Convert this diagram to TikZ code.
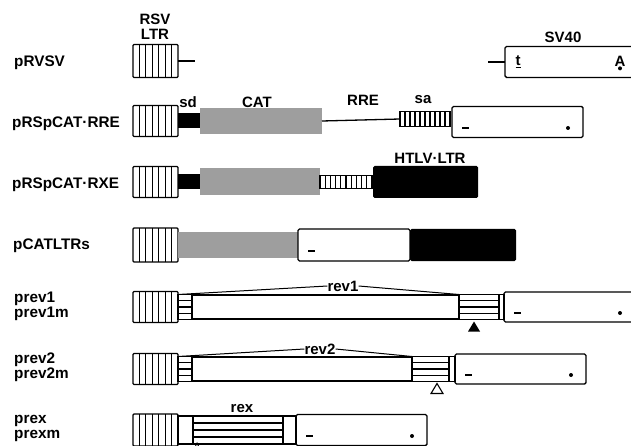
\documentclass[tikz,border=0pt]{standalone}
\usepackage{fontspec}
\setmainfont{Liberation Sans}
\usetikzlibrary{positioning,calc}

\tikzset{
  seg/.style={inner sep=0pt, outer sep=0pt, anchor=west},
  vstripes/.style={path picture={
      \foreach \k in {1,...,#1}{
        \pgfmathsetmacro\fr{\k/(#1+1)}
        \draw[line width=1.2pt]
          ($(path picture bounding box.south west)!\fr!(path picture bounding box.south east)$) --
          ($(path picture bounding box.north west)!\fr!(path picture bounding box.north east)$);
      }}},
  hstripes/.style={path picture={
      \foreach \k in {1,...,#1}{
        \pgfmathsetmacro\fr{\k/(#1+1)}
        \draw[line width=1.1pt]
          ($(path picture bounding box.south west)!\fr!(path picture bounding box.north west)$) --
          ($(path picture bounding box.south east)!\fr!(path picture bounding box.north east)$);
      }}},
  ltrbox/.style={seg, draw, line width=1.4pt, rounded corners=1pt,
    minimum width=45pt, minimum height=#1, vstripes=6},
  sabox/.style={seg, draw, line width=1.3pt, minimum width=#1, minimum height=15pt, vstripes=9},
  hbox/.style={seg, draw, line width=1.3pt, minimum height=25pt, minimum width=#1, hstripes=3},
  plainbox/.style={seg, draw, line width=1.3pt, minimum height=25pt, minimum width=#1},
  sdbar/.style={seg, fill=black, minimum width=22pt, minimum height=15pt},
  catbox/.style={seg, fill=black!38, minimum width=#1, minimum height=26pt},
  blackbox/.style={seg, fill=black, rounded corners=1.5pt, minimum width=#1, minimum height=32pt},
  svbox/.style={seg, draw, line width=1.4pt, rounded corners=1.5pt,
    minimum width=131pt, minimum height=31pt},
  marks/.style={path picture={
      \draw[line width=1.5pt] ($(path picture bounding box.west)+(10,6)$) -- ++(7,0);
      \fill ($(path picture bounding box.east)+(-15,6)$) circle (2);}},
  tag/.style={inner sep=0pt, font=\fontsize{15.3}{15}\selectfont\bfseries, align=left},
  head/.style={inner sep=0pt, font=\fontsize{15}{14.5}\selectfont\bfseries, align=center},
  bracket/.style={line width=1pt},
  link/.style={line width=1.3pt},
}

\begin{document}
\begin{tikzpicture}[x=1pt, y=-1pt]
\useasboundingbox (0,0) rectangle (631,446);
\clip (0,0) rectangle (631,446);

% row labels
\node[tag, anchor=west] (lab1) at (14,63)  {pRVSV};
\node[tag, anchor=west] (lab2) at (12,124) {pRSpCAT·RRE};
\node[tag, anchor=west] (lab3) at (12,185) {pRSpCAT·RXE};
\node[tag, anchor=west] (lab4) at (13,246) {pCATLTRs};
\node[tag, anchor=west] (lab5) at (14,306) {prev1\\prev1m};
\node[tag, anchor=west] (lab6) at (14,367) {prev2\\prev2m};
\node[tag, anchor=west] (lab7) at (14,428) {prex\\prexm};

% --- pRVSV ---
\node[ltrbox=33pt] (ltr1) at (133,61) {};
\node[head] (rsv) at (155,27) {RSV\\LTR};
\coordinate (c1) at (195,61);
\draw[link] (ltr1.east) -- (c1);
\node[svbox] (sv) at (505,62) {};
\coordinate (c2) at (488,62);
\draw[link] (c2) -- (sv.west);
\node[head] (svlab) at (563,37) {SV40};
\node[head] (tt) at ($(sv.west)+(13,0)$) {\underline{t}};
\node[head] (aa) at ($(sv.east)+(-16,-1)$) {A};
\fill ($(aa.south)+(0,2)$) circle (2);

% --- pRSpCAT.RRE ---
\node[ltrbox=31pt] (ltr2) at (133,121) {};
\node[sdbar, right=0pt of ltr2] (sd2) {};
\node[catbox=122pt, right=0pt of sd2] (cat2) {};
\node[sabox=50pt] (sa2) at (400,119) {};
\draw[link] (cat2.east) -- (sa2.west);
\node[svbox, marks] (wb2) at (452,122) {};
\node[head] (sdlab) at (188,102) {sd};
\node[head] (catlab) at (257,102) {CAT};
\node[head] (rrelab) at (363,100) {RRE};
\node[head] (salab) at (423,100) {sa};

% --- pRSpCAT.RXE ---
\node[ltrbox=31pt] (ltr3) at (133,182) {};
\node[sdbar, right=0pt of ltr3] (sd3) {};
\node[catbox=120pt, minimum height=27pt, right=0pt of sd3] (cat3) {};
\node[sabox=52pt, minimum height=13pt, right=0pt of cat3] (sa3) {};
\node[blackbox=105pt, right=1pt of sa3] (htlv) {};
\node[head] (htlvlab) at (430,158) {HTLV·LTR};

% --- pCATLTRs ---
\node[ltrbox=34pt] (ltr4) at (133,245) {};
\node[catbox=120pt, minimum height=25pt, right=0pt of ltr4] (cat4) {};
\node[seg, draw, line width=1.4pt, rounded corners=1.5pt, minimum width=112pt, minimum height=32pt,
  path picture={\draw[line width=1.5pt] ($(path picture bounding box.west)+(10,6)$) -- ++(7,0);},
  right=0pt of cat4] (wb4) {};
\node[blackbox=106pt, right=0pt of wb4] (bb4) {};

% --- prev1 ---
\node[ltrbox=31pt] (ltr5) at (133,307) {};
\node[hbox=14pt, right=0pt of ltr5] (hl5) {};
\node[plainbox=267pt, minimum height=24pt, right=0pt of hl5] (mid5) {};
\node[hbox=40pt, right=0pt of mid5] (hr5) {};
\node[plainbox=5pt, right=0pt of hr5] (gap5) {};
\node[svbox, marks, minimum height=30pt, right=0pt of gap5] (wb5) {};
\node[head] (rev1) at (343,286) {rev1};
\draw[bracket] (hl5.north west) -- (rev1.west);
\draw[bracket] (rev1.east) -- (hr5.north west);
\coordinate (m5) at ($(hr5.south west)+(15,2)$);
\fill (m5) -- ++(-6,10) -- ++(12,0) -- cycle;

% --- prev2 ---
\node[ltrbox=31pt] (ltr6) at (133,369) {};
\node[hbox=14pt, right=0pt of ltr6] (hl6) {};
\node[plainbox=220pt, minimum height=24pt, right=0pt of hl6] (mid6) {};
\node[hbox=37pt, right=0pt of mid6] (hr6) {};
\node[plainbox=6pt, right=0pt of hr6] (gap6) {};
\node[svbox, marks, minimum height=30pt, right=0pt of gap6] (wb6) {};
\node[head] (rev2) at (320,349) {rev2};
\draw[bracket] (hl6.north west) -- (rev2.west);
\draw[bracket] (rev2.east) -- (hr6.north west);
\coordinate (m6) at ($(hr6.south west)+(25,2)$);
\draw[line width=1.1pt] (m6) -- ++(-6,10) -- ++(12,0) -- cycle;

% --- prex ---
\node[ltrbox=32pt] (ltr7) at (133,430) {};
\node[plainbox=15pt, minimum height=28pt, right=0pt of ltr7] (p7a) {};
\node[hbox=90pt, minimum height=28pt, right=0pt of p7a] (rex7) {};
\node[plainbox=13pt, minimum height=28pt, right=0pt of rex7] (p7b) {};
\node[svbox, marks, right=0pt of p7b] (wb7) {};
\node[head] (rexlab) at (242,409) {rex};
\coordinate (m7) at ($(rex7.south west)+(4,-1)$);
\draw[line width=0.9pt] (m7) -- ++(-3,6) -- ++(6,0) -- cycle;

\end{tikzpicture}
\end{document}
